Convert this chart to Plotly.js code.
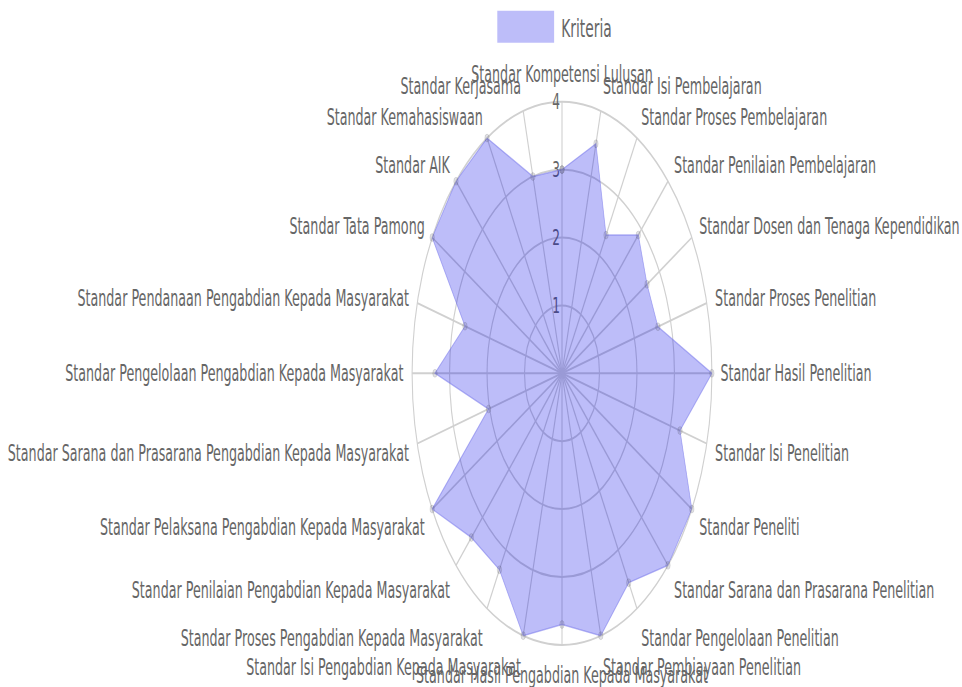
<!DOCTYPE html>
<html><head><meta charset="utf-8">
<script src="https://cdn.plot.ly/plotly-3.0.1.min.js"></script>
<style>
html,body{margin:0;padding:0;overflow:hidden;background:#fff;}
#wrap{position:relative;width:962px;height:687px;overflow:hidden;}
#chart{position:absolute;left:0;top:0;transform-origin:0 0;}
#chart .legend .legendlines, #chart .legend .legendpoints{display:none;}
#chart .legend .legendfill path{transform:translate(-8px,-16px) scale(1,5.333);}
</style></head><body>
<div id="wrap"><div id="chart"></div></div>
<script>
const categories = [
  'Standar Kompetensi Lulusan',
  'Standar Isi Pembelajaran',
  'Standar Proses Pembelajaran',
  'Standar Penilaian Pembelajaran',
  'Standar Dosen dan Tenaga Kependidikan',
  'Standar Proses Penelitian',
  'Standar Hasil Penelitian',
  'Standar Isi Penelitian',
  'Standar Peneliti',
  'Standar Sarana dan Prasarana Penelitian',
  'Standar Pengelolaan Penelitian',
  'Standar Pembiayaan Penelitian',
  'Standar Hasil Pengabdian Kepada Masyarakat',
  'Standar Isi Pengabdian Kepada Masyarakat',
  'Standar Proses Pengabdian Kepada Masyarakat',
  'Standar Penilaian Pengabdian Kepada Masyarakat',
  'Standar Pelaksana Pengabdian Kepada Masyarakat',
  'Standar Sarana dan Prasarana Pengabdian Kepada Masyarakat',
  'Standar Pengelolaan Pengabdian Kepada Masyarakat',
  'Standar Pendanaan Pengabdian Kepada Masyarakat',
  'Standar Tata Pamong',
  'Standar AIK',
  'Standar Kemahasiswaan',
  'Standar Kerjasama'
];
const kriteria = [3.0, 3.5, 2.35, 2.88, 2.62, 2.65, 4.0, 3.26, 4.0, 4.0, 3.56, 4.0,
                  3.7, 4.0, 3.34, 3.42, 4.0, 2.03, 3.39, 2.68, 4.0, 4.0, 4.0, 3.0];
const seriesName = 'Kriteria';
const radialTicks = [1, 2, 3, 4];
const radialRange = [0, 4];

// The reference is a horizontally squeezed picture of a round radar chart.
const SX = 0.552;
const H = 687;
const W = Math.round(962 / SX);
const el = document.getElementById('chart');
el.style.width = W + 'px';
el.style.height = H + 'px';
el.style.transform = 'scaleX(' + (962 / W) + ')';

const cxRef = 562, cyRef = 373.3, R = 271.6;
const cxU = cxRef * W / 962;
const grid = '#d0d0d0';
const font = 'DejaVu Sans, Liberation Sans, sans-serif';

const trace = {
  type: 'scatterpolar',
  r: kriteria.concat([kriteria[0]]),
  theta: categories.concat([categories[0]]),
  name: seriesName,
  mode: 'lines+markers',
  fill: 'toself',
  fillcolor: 'rgba(0,0,230,0.26)',
  line: {color: 'rgba(120,120,235,0.55)', width: 1.5},
  marker: {size: 8, color: 'rgba(90,90,110,0.18)', line: {color: 'rgba(0,0,0,0.12)', width: 1}},
  hoverinfo: 'skip'
};

const layout = {
  width: W, height: H,
  margin: {l: 0, r: 0, t: 0, b: 0},
  paper_bgcolor: '#fff',
  showlegend: true,
  legend: {
    x: 901 / W, y: 1 - 4 / H, xanchor: 'left', yanchor: 'top',
    font: {family: font, size: 25, color: '#666'},
    itemwidth: 106, bgcolor: 'rgba(0,0,0,0)'
  },
  polar: {
    domain: {x: [(cxU - R) / W, (cxU + R) / W], y: [(H - cyRef - R) / H, (H - cyRef + R) / H]},
    bgcolor: 'rgba(0,0,0,0)',
    angularaxis: {
      type: 'category', categoryarray: categories,
      rotation: 90, direction: 'clockwise',
      showgrid: true, gridcolor: grid, gridwidth: 2,
      showline: true, linecolor: grid, linewidth: 2,
      ticks: 'outside', ticklen: 10, tickcolor: 'rgba(0,0,0,0)',
      tickfont: {family: font, size: 23, color: '#666'},
      layer: 'below traces'
    },
    radialaxis: {
      range: radialRange, tickvals: radialTicks, ticktext: radialTicks.map(String),
      angle: 90, tickangle: 90, side: 'counterclockwise',
      showgrid: true, gridcolor: grid, gridwidth: 2,
      showline: false, ticks: '',
      tickfont: {family: font, size: 22, color: '#666'},
      layer: 'below traces'
    }
  }
};

Plotly.newPlot(el, [trace], layout, {displayModeBar: false, staticPlot: true});
</script>
</body></html>
